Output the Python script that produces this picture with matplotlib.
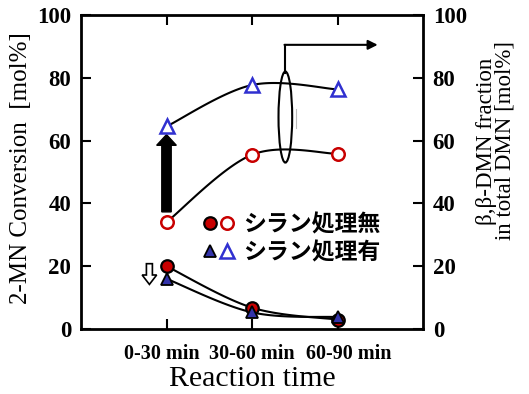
import numpy as np
import matplotlib
matplotlib.use("Agg")
import matplotlib.pyplot as plt
from matplotlib.patches import Ellipse, FancyArrow
from matplotlib.legend_handler import HandlerTuple
from matplotlib.transforms import ScaledTranslation

# ---- data ----
categories = ["0-30 min", "30-60 min", "60-90 min"]
conv_no_silane = [20.0, 6.8, 3.0]       # filled red circles (left axis)
conv_silane = [16.0, 5.3, 3.8]          # filled blue triangles (left axis)
frac_no_silane = [34.0, 55.5, 55.8]     # open red circles (right axis)
frac_silane = [64.5, 77.7, 76.3]        # open blue triangles (right axis)
legend_labels = ["シラン処理無", "シラン処理有"]

RED = "#c80000"
BLUE = "#3030d0"
DBLUE = "#3333aa"

serif = ["Liberation Serif", "DejaVu Serif"]
jp = ["Noto Sans CJK JP", "DejaVu Sans"]


def smooth(xs, ys, n=40):
    xs = np.asarray(xs, float)
    ys = np.asarray(ys, float)
    P = np.column_stack([xs, ys])
    P = np.vstack([P[0], P, P[-1]])
    out = []
    for i in range(1, len(P) - 2):
        p0, p1, p2, p3 = P[i - 1], P[i], P[i + 1], P[i + 2]
        t = np.linspace(0, 1, n)[:, None]
        seg = 0.5 * ((2 * p1) + (-p0 + p2) * t + (2 * p0 - 5 * p1 + 4 * p2 - p3) * t ** 2
                     + (-p0 + 3 * p1 - 3 * p2 + p3) * t ** 3)
        out.append(seg)
    out = np.vstack(out)
    return out[:, 0], out[:, 1]


fig = plt.figure(figsize=(5.29, 3.94), dpi=100)
ax = fig.add_axes([81 / 529, 1 - 329 / 394, (423 - 81) / 529, (329 - 15) / 394])
x = np.arange(len(categories))
ax.set_xlim(-1, 3)
ax.set_ylim(0, 100)

for ys in (conv_no_silane, conv_silane, frac_no_silane, frac_silane):
    sx, sy = smooth(x, ys)
    ax.plot(sx, sy, color="black", lw=1.5, zorder=2)

ax.plot(x, conv_no_silane, "o", ms=9, mfc=RED, mec="black", mew=1.6, zorder=4)
ax.plot(x, conv_silane, "^", ms=9, mfc=DBLUE, mec="black", mew=1.3, zorder=5)
ax.plot(x, frac_no_silane, "o", ms=9, mfc="white", mec=RED, mew=1.8, zorder=4)
ax.plot(x, frac_silane, "^", ms=9.5, mfc="white", mec=BLUE, mew=1.8, zorder=4)

# big black arrow (improvement)
ax.add_patch(FancyArrow(0, 37.3, 0, 24.6, width=0.11, head_width=0.23, head_length=3.4,
                        length_includes_head=True, color="black", zorder=3))
# hollow down arrow
ax.add_patch(FancyArrow(-0.2, 20.8, 0, -6.6, width=0.07, head_width=0.17, head_length=3.0,
                        length_includes_head=True, fc="white", ec="black", lw=1.2, zorder=3))

# ellipse grouping the selectivity curves + pointer to right axis
ax.add_patch(Ellipse((1.39, 67.5), 0.16, 29, fill=False, ec="black", lw=1.5, zorder=3))
ax.plot([1.39, 1.39], [81.5, 90.5], color="black", lw=1.5, zorder=3)
ax.annotate("", xy=(2.47, 90.5), xytext=(1.38, 90.5),
            arrowprops=dict(arrowstyle="-|>", color="black", lw=1.5, mutation_scale=14,
                            shrinkA=0, shrinkB=0))
ax.plot([1.51, 1.51], [64, 70], color="#bbbbbb", lw=0.8, zorder=1)

# axes styling
for sp in ax.spines.values():
    sp.set_linewidth(2)
ax.set_xticks(x)
ax.set_xticklabels(categories, fontfamily=serif, fontweight="bold", fontsize=14.5)
ax.set_yticks(np.arange(0, 101, 20))
ax.tick_params(axis="both", direction="in", length=7, width=1.5, top=True, right=True,
               labelright=True)
ax.tick_params(axis="y", pad=7)
ax.tick_params(axis="x", pad=11)
for tick in ax.yaxis.get_major_ticks():
    for lab in (tick.label1, tick.label2):
        lab.set_fontweight("bold")
        lab.set_fontfamily(serif)
        lab.set_fontsize(16.5)
xlabs = ax.get_xticklabels()
for lab, dx in zip(xlabs, (-5, 0, 11)):
    lab.set_transform(lab.get_transform() + ScaledTranslation(dx / 100, 0, fig.dpi_scale_trans))

ax.set_xlabel("Reaction time", fontfamily=serif, fontsize=21.5)
ax.xaxis.set_label_coords((252 - 81) / 342, (329 - 386) / 314)
ax.xaxis.label.set_va("baseline")
fig.text(0.040, 1 - 168 / 394, "2-MN Conversion  [mol%]", rotation=90,
         ha="center", va="center", fontfamily=serif, fontsize=18)
fig.text(0.9376, 1 - 141 / 394, "β,β-DMN fraction\nin total DMN [mol%]", rotation=90,
         ha="center", va="center", fontfamily=serif, fontsize=16.5, linespacing=0.85)

# legend
h1 = ax.plot([], [], "o", ms=9, mfc=RED, mec="black", mew=1.6)[0]
h2 = ax.plot([], [], "o", ms=9, mfc="white", mec=RED, mew=1.8)[0]
h3 = ax.plot([], [], "^", ms=9, mfc=DBLUE, mec="black", mew=1.3)[0]
h4 = ax.plot([], [], "^", ms=9.5, mfc="white", mec=BLUE, mew=1.8)[0]
leg = ax.legend([(h1, h2), (h3, h4)], legend_labels,
                handler_map={tuple: HandlerTuple(ndivide=None, pad=0)},
                frameon=False, loc="center left", bbox_to_anchor=(0.352, 0.287),
                prop=dict(family=jp, size=16.5, weight="bold"), handlelength=1.5,
                handletextpad=0.33, labelspacing=0.22, borderaxespad=0, borderpad=0)

fig.savefig("out.png", dpi=100)
